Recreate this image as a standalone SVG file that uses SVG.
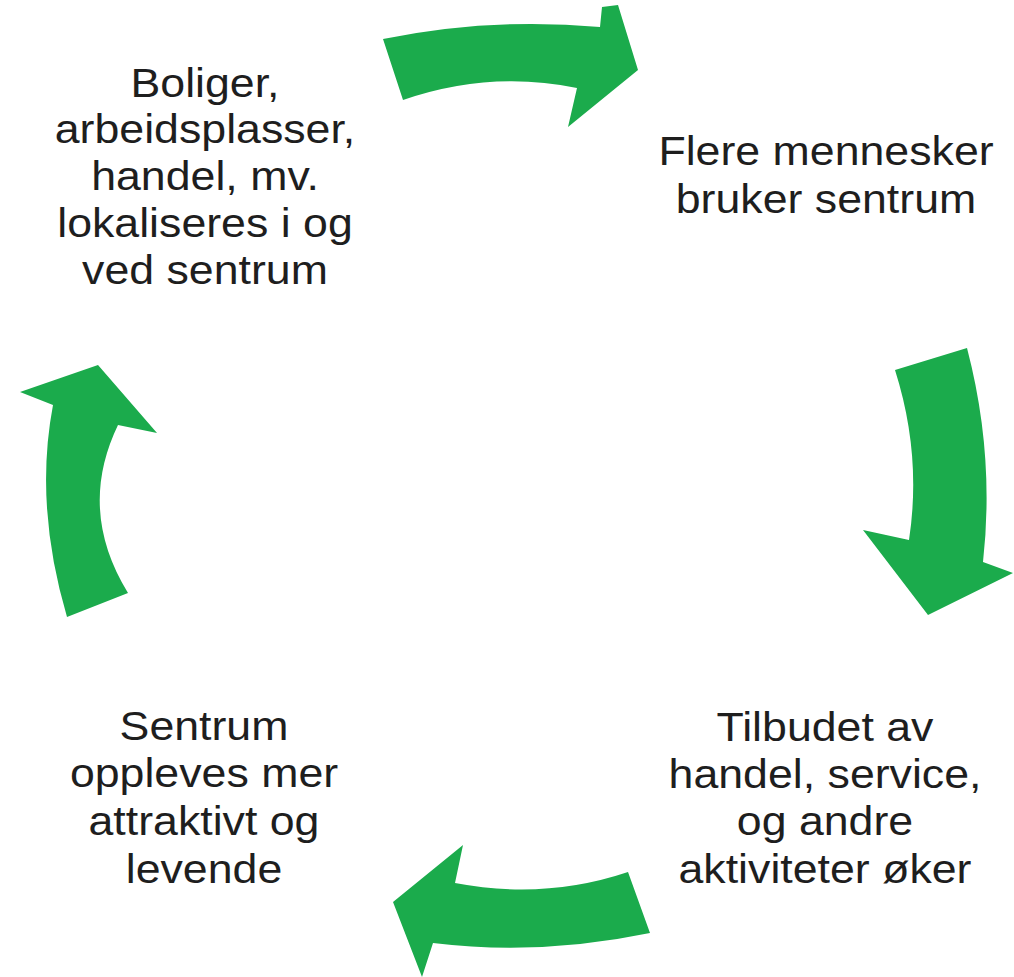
<svg xmlns="http://www.w3.org/2000/svg" width="1014" height="977" viewBox="0 0 1014 977">
<style>
.lbl{font-family:"Liberation Sans",Arial,sans-serif;font-size:41px;fill:#1e1e1e;text-anchor:middle}
.arr{fill:#1bab4c}
</style>
<rect width="1014" height="977" fill="#ffffff"/>
<g id="connectors">
<path id="arrow-top" class="arr" d="M383,39 Q490,17 600,27 L602,7 L618,5 L638,70 L568,127 L577,88 Q490,70 403,100 Z"/>
<path id="arrow-right" class="arr" d="M895,370 L967,348 Q995,455 983,562 L1013,573 L928,615 L863,530 L909,540 Q922,455 895,370 Z"/>
<path id="arrow-bottom" class="arr" d="M628,872 L650,933 Q540,956 433,943 L422,977 L393,902 L463,845 L455,883 Q545,900 628,872 Z"/>
<path id="arrow-left" class="arr" d="M67,617 L128,593 Q77,510 118,425 L157,433 L98,365 L20,392 L53,405 Q34,505 67,617 Z"/>
</g>
<g id="node-top-left" transform="translate(205,0) scale(1.09,1)">
<text class="lbl" x="0" y="97">Boliger,</text>
<text class="lbl" x="0" y="143">arbeidsplasser,</text>
<text class="lbl" x="0" y="190">handel, mv.</text>
<text class="lbl" x="0" y="237">lokaliseres i og</text>
<text class="lbl" x="0" y="284">ved sentrum</text>
</g>
<g id="node-top-right" transform="translate(826,0) scale(1.09,1)">
<text class="lbl" x="0" y="165">Flere mennesker</text>
<text class="lbl" x="0" y="213">bruker sentrum</text>
</g>
<g id="node-bottom-right" transform="translate(825,0) scale(1.09,1)">
<text class="lbl" x="0" y="741">Tilbudet av</text>
<text class="lbl" x="0" y="788">handel, service,</text>
<text class="lbl" x="0" y="835">og andre</text>
<text class="lbl" x="0" y="883">aktiviteter øker</text>
</g>
<g id="node-bottom-left" transform="translate(204,0) scale(1.09,1)">
<text class="lbl" x="0" y="740">Sentrum</text>
<text class="lbl" x="0" y="787">oppleves mer</text>
<text class="lbl" x="0" y="835">attraktivt og</text>
<text class="lbl" x="0" y="883">levende</text>
</g>
</svg>
